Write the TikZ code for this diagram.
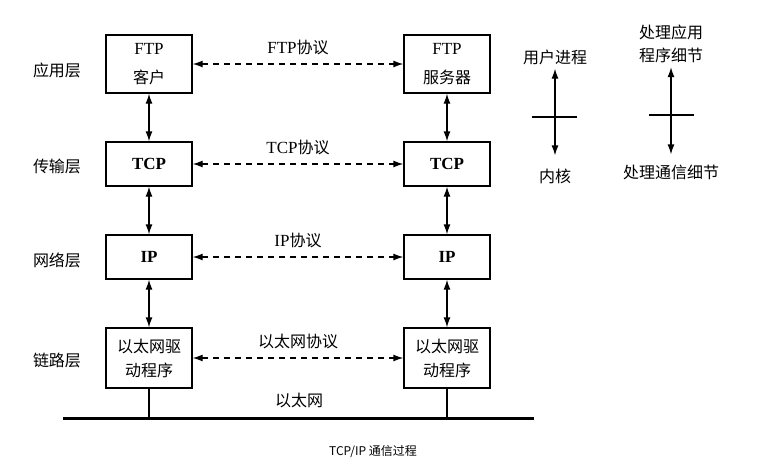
\documentclass[tikz,border=0pt]{standalone}
\usepackage{fontspec}
\setmainfont{Liberation Serif}
\newfontfamily\hei{Noto Sans CJK SC}
\usetikzlibrary{arrows.meta}
\newcommand{\zh}[1]{{\hei\fontsize{16}{24}\selectfont #1}}
\newcommand{\tam}{\fontsize{17}{24}\selectfont}

\begin{document}
\begin{tikzpicture}[
  x=1pt, y=-1pt,
  font=\tam,
  capa/.style={draw, line width=1.3pt, minimum width=86pt, align=center, inner sep=2pt, font=\tam},
  flecha/.style={{Latex[length=10pt,width=7pt]}-{Latex[length=10pt,width=7pt]}, line width=1.3pt},
  proto/.style={flecha, dash pattern=on 6pt off 5pt},
  etiq/.style={font=\tam, inner sep=1pt},
  tope/.style={line width=1.1pt}
]
  \useasboundingbox (0,0) rectangle (772,467);

  % --- capas (izquierda)
  \node[etiq] (lApp) at (57,70) {\zh{应用层}};
  \node[etiq] (lTrans) at (57,166) {\zh{传输层}};
  \node[etiq] (lRed) at (57,260) {\zh{网络层}};
  \node[etiq] (lEnl) at (57,360) {\zh{链路层}};

  % --- pila del cliente
  \node[capa, minimum height=58pt] (ftpA) at (149,64) {FTP\\[5pt]\zh{客户}};
  \node[capa, minimum height=44pt, font=\tam\bfseries] (tcpA) at (149,164) {TCP};
  \node[capa, minimum height=44pt, font=\tam\bfseries] (ipA) at (149,257) {IP};
  \node[capa, minimum height=60pt] (ethA) at (149,358) {\zh{以太网驱}\\\zh{动程序}};

  % --- pila del servidor
  \node[capa, minimum height=58pt] (ftpB) at (447,64) {FTP\\[5pt]\zh{服务器}};
  \node[capa, minimum height=44pt, font=\tam\bfseries] (tcpB) at (447,164) {TCP};
  \node[capa, minimum height=44pt, font=\tam\bfseries] (ipB) at (447,257) {IP};
  \node[capa, minimum height=60pt] (ethB) at (447,358) {\zh{以太网驱}\\\zh{动程序}};

  % verticales
  \draw[flecha] (ftpA) -- (tcpA);
  \draw[flecha] (tcpA) -- (ipA);
  \draw[flecha] (ipA) -- (ethA);
  \draw[flecha] (ftpB) -- (tcpB);
  \draw[flecha] (tcpB) -- (ipB);
  \draw[flecha] (ipB) -- (ethB);

  % --- protocolos (punto a punto)
  \draw[proto] (ftpA) -- (ftpB) node[etiq, midway, above=7pt] {FTP\zh{协议}};
  \draw[proto] (tcpA) -- (tcpB) node[etiq, midway, above=7pt] {TCP\zh{协议}};
  \draw[proto] (ipA) -- (ipB) node[etiq, midway, above=7pt] {IP\zh{协议}};
  \draw[proto] (ethA) -- (ethB) node[etiq, midway, above=7pt] {\zh{以太网协议}};

  % --- cable Ethernet
  \coordinate (cabO) at (63,418);
  \coordinate (cabE) at (534,418);
  \draw[line width=3pt] (cabO) -- (cabE);
  \draw[tope] (ethA.south) -- (ethA.south |- cabO);
  \draw[tope] (ethB.south) -- (ethB.south |- cabO);
  \node[etiq] (lCab) at (299,400) {\zh{以太网}};

  % --- leyenda
  \node[etiq] (usr) at (555,57) {\zh{用户进程}};
  \node[etiq] (kern) at (555,176) {\zh{内核}};
  \draw[flecha, shorten <=3pt, shorten >=12pt] (usr) -- (kern);
  \coordinate (corteA) at (555,117);
  \draw[tope] (corteA) +(-23,0) -- +(22,0);

  \node[etiq, align=center, font=\hei\fontsize{16}{23}\selectfont] (app) at (671,44) {处理应用\\程序细节};
  \node[etiq] (com) at (671,172) {\zh{处理通信细节}};
  \draw[flecha, shorten <=3pt, shorten >=9pt] (app) -- (com);
  \coordinate (corteB) at (671,115);
  \draw[tope] (corteB) +(-22,0) -- +(23,0);

  % --- titulo
  \node[font=\hei\fontsize{12}{14}\selectfont] (titulo) at (373,452) {TCP/IP 通信过程};
\end{tikzpicture}
\end{document}
